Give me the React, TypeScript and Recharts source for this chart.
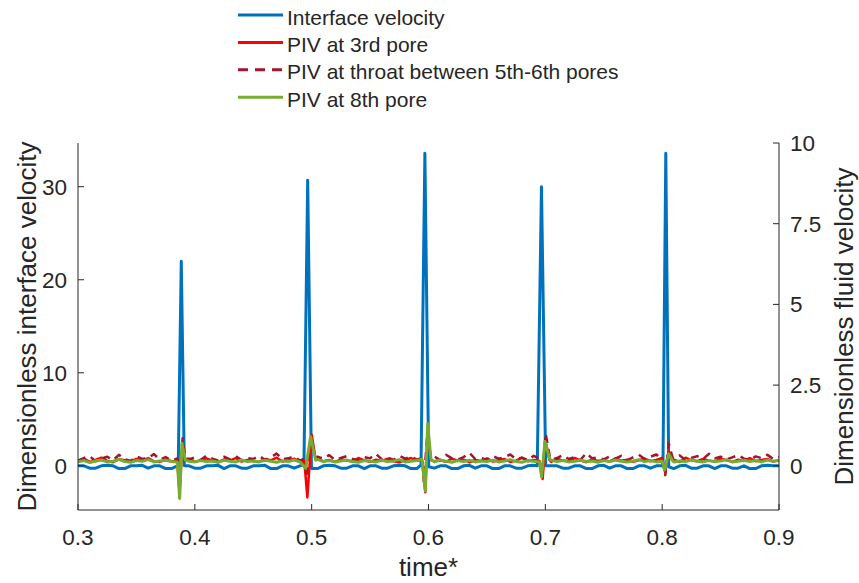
import React from 'react';
import { LineChart, Line, XAxis, YAxis } from 'recharts';

// sampling grid of the PIV / interface records (time*)
const gridTime = Array.from({ length: 121 }, (_, i) => Math.round((0.3 + i * 0.005) * 10000) / 10000);

// interface velocity baseline (left axis), one value per grid time
const ifaceBase = [
  0.0, 0.0, -0.25, -0.25, 0.0, 0.05, 0.0, -0.3, -0.3, 0.0,
  0.0, 0.05, -0.25, 0.0, 0.0, -0.3, -0.3, 0.0, 0.0, 0.0,
  -0.25, -0.25, 0.0, 0.0, 0.05, -0.3, 0.0, 0.0, -0.25, -0.25,
  0.0, 0.0, 0.05, -0.3, -0.3, 0.0, 0.0, -0.25, 0.0, 0.0,
  -0.3, -0.3, 0.0, 0.05, 0.0, -0.25, -0.25, 0.0, 0.0, -0.3,
  0.0, 0.0, -0.25, -0.25, 0.0, 0.05, 0.0, -0.3, -0.3, 0.0,
  0.0, -0.25, 0.0, 0.0, -0.3, -0.3, 0.0, 0.05, -0.25, 0.0,
  0.0, -0.3, -0.3, 0.0, 0.0, -0.25, -0.25, 0.0, 0.05, 0.0,
  -0.3, 0.0, 0.0, -0.25, -0.25, 0.0, 0.0, -0.3, -0.3, 0.0,
  0.05, -0.25, 0.0, 0.0, -0.3, -0.3, 0.0, 0.0, -0.25, 0.0,
  0.0, -0.3, -0.3, 0.0, 0.05, -0.25, -0.25, 0.0, 0.0, -0.3,
  0.0, 0.0, -0.25, -0.25, 0.0, -0.3, -0.3, 0.0, 0.05, 0.0,
  0.0,
];
// interface velocity spikes: [time*, value]
const ifaceSpikes = [
  [[0.3858, 0.0], [0.3884, 22.0], [0.391, 0.0]],
  [[0.4934, 0.1], [0.4966, 30.7], [0.4998, -0.1]],
  [[0.5936, 0.1], [0.5969, 33.6], [0.6002, -0.1]],
  [[0.6931, 0.0], [0.6967, 30.0], [0.7003, 0.0]],
  [[0.8007, 0.1], [0.8031, 33.6], [0.8056, -0.1]],
];

// PIV at 3rd pore (right axis)
const pore3Base = [
  0.14, 0.22, 0.12, 0.18, 0.25, 0.15, 0.11, 0.2, 0.17, 0.13,
  0.21, 0.16, 0.24, 0.14, 0.12, 0.19, 0.15, 0.13, 0.18, 0.22,
  0.12, 0.17, 0.23, 0.15, 0.11, 0.2, 0.16, 0.24, 0.13, 0.18,
  0.15, 0.12, 0.21, 0.17, 0.25, 0.13, 0.16, 0.22, 0.12, 0.15,
  0.19, 0.23, 0.14, 0.18, 0.12, 0.2, 0.16, 0.13, 0.24, 0.17,
  0.12, 0.19, 0.15, 0.22, 0.14, 0.11, 0.18, 0.24, 0.16, 0.13,
  0.2, 0.14, 0.17, 0.12, 0.22, 0.16, 0.19, 0.11, 0.18, 0.15,
  0.23, 0.13, 0.17, 0.21, 0.12, 0.16, 0.25, 0.14, 0.18, 0.15,
  0.19, 0.12, 0.22, 0.16, 0.14, 0.24, 0.17, 0.11, 0.2, 0.15,
  0.18, 0.13, 0.23, 0.16, 0.19, 0.12, 0.17, 0.22, 0.14, 0.18,
  0.24, 0.15, 0.19, 0.12, 0.25, 0.17, 0.14, 0.21, 0.16, 0.13,
  0.22, 0.17, 0.12, 0.19, 0.15, 0.24, 0.14, 0.18, 0.21, 0.13,
  0.17,
];
const pore3Spikes = [
  [[0.3869, -0.8], [0.3893, 0.6], [0.3915, 0.18]],
  [[0.4937, 0.15], [0.4963, -0.98], [0.5, 0.96], [0.5035, 0.18]],
  [[0.5945, 0.16], [0.5973, -0.82], [0.5993, 1.1], [0.602, 0.18]],
  [[0.6977, -0.41], [0.7, 0.8], [0.7035, 0.18]],
  [[0.8025, -0.2], [0.8056, 0.45], [0.809, 0.18]],
];

// PIV at throat between 5th-6th pores (right axis)
const throat56Base = [
  0.16, 0.24, 0.3, 0.14, 0.22, 0.28, 0.17, 0.34, 0.2, 0.15,
  0.29, 0.21, 0.24, 0.36, 0.19, 0.27, 0.16, 0.23, 0.33, 0.2,
  0.26, 0.18, 0.32, 0.22, 0.16, 0.28, 0.2, 0.3, 0.17, 0.24,
  0.21, 0.31, 0.18, 0.26, 0.38, 0.2, 0.23, 0.29, 0.16, 0.24,
  0.19, 0.28, 0.22, 0.33, 0.18, 0.24, 0.3, 0.21, 0.17, 0.27,
  0.23, 0.37, 0.2, 0.26, 0.18, 0.31, 0.22, 0.28, 0.19, 0.25,
  0.21, 0.29, 0.17, 0.34, 0.23, 0.19, 0.27, 0.4, 0.21, 0.24,
  0.18, 0.3, 0.22, 0.26, 0.35, 0.2, 0.25, 0.17, 0.31, 0.22,
  0.28, 0.19, 0.24, 0.33, 0.21, 0.27, 0.18, 0.39, 0.23, 0.26,
  0.2, 0.29, 0.22, 0.31, 0.17, 0.26, 0.34, 0.21, 0.28, 0.35,
  0.19, 0.27, 0.22, 0.32, 0.18, 0.24, 0.3, 0.21, 0.37, 0.23,
  0.28, 0.2, 0.26, 0.33, 0.22, 0.18, 0.29, 0.24, 0.34, 0.21,
  0.27,
];
const throat56Spikes = [
  [[0.387, -0.6], [0.3895, 0.85], [0.392, 0.24]],
  [[0.4955, -0.3], [0.4995, 0.85], [0.5035, 0.24]],
  [[0.596, -0.5], [0.599, 1.0], [0.602, 0.24]],
  [[0.6975, -0.3], [0.7003, 1.0], [0.704, 0.24]],
  [[0.8027, -0.29], [0.8056, 0.7], [0.809, 0.24]],
];

// PIV at 8th pore (right axis)
const pore8Base = [
  0.12, 0.16, 0.1, 0.15, 0.18, 0.12, 0.14, 0.2, 0.13, 0.11,
  0.16, 0.14, 0.19, 0.12, 0.15, 0.17, 0.13, 0.12, 0.2, 0.14,
  0.12, 0.16, 0.13, 0.15, 0.11, 0.17, 0.14, 0.12, 0.18, 0.13,
  0.15, 0.12, 0.17, 0.14, 0.11, 0.16, 0.13, 0.18, 0.12, 0.15,
  0.14, 0.2, 0.13, 0.16, 0.12, 0.15, 0.18, 0.13, 0.11, 0.16,
  0.14, 0.12, 0.17, 0.13, 0.15, 0.19, 0.12, 0.14, 0.16, 0.13,
  0.15, 0.12, 0.18, 0.14, 0.11, 0.16, 0.13, 0.17, 0.12, 0.15,
  0.13, 0.17, 0.12, 0.15, 0.19, 0.13, 0.11, 0.16, 0.14, 0.12,
  0.15, 0.18, 0.13, 0.16, 0.12, 0.14, 0.17, 0.13, 0.15, 0.11,
  0.16, 0.13, 0.18, 0.14, 0.12, 0.15, 0.19, 0.13, 0.16, 0.12,
  0.14, 0.17, 0.12, 0.15, 0.13, 0.18, 0.14, 0.12, 0.16, 0.13,
  0.15, 0.19, 0.12, 0.14, 0.17, 0.13, 0.16, 0.12, 0.18, 0.14,
  0.16,
];
const pore8Spikes = [
  [[0.387, -1.01], [0.389, 0.7], [0.3918, 0.18]],
  [[0.4949, -0.08], [0.4991, 0.9], [0.5034, 0.18]],
  [[0.5944, 0.2], [0.5973, -0.78], [0.5993, 1.3], [0.6021, 0.2]],
  [[0.6968, -0.34], [0.6997, 0.75], [0.704, 0.18]],
  [[0.8022, -0.13], [0.8056, 0.37], [0.809, 0.15]],
];

const xTicks = [0.3, 0.4, 0.5, 0.6, 0.7, 0.8, 0.9];
const leftTicks = [0, 10, 20, 30];
const rightTicks = [0, 2.5, 5, 7.5, 10];

const legendItems = [
  { name: 'Interface velocity', color: '#0072BD', dash: undefined },
  { name: 'PIV at 3rd pore', color: '#FF0000', dash: undefined },
  { name: 'PIV at throat between 5th-6th pores', color: '#A2142F', dash: '10 7' },
  { name: 'PIV at 8th pore', color: '#77AC30', dash: undefined },
];

const FONT = '"Liberation Sans", Arial, Helvetica, sans-serif';
const INK = '#262626';

// grid samples outside the spike windows + the spike samples, sorted by time
function buildSeries(base: number[], spikes: number[][][]) {
  const pts = gridTime
    .map((t, i) => ({ t, v: base[i] }))
    .filter((p) => !spikes.some((s) => p.t >= s[0][0] && p.t <= s[s.length - 1][0]));
  spikes.forEach((s) => s.forEach(([t, v]) => pts.push({ t, v })));
  return pts.sort((a, b) => a.t - b.t);
}

const ifaceData = buildSeries(ifaceBase, ifaceSpikes);
const pore3Data = buildSeries(pore3Base, pore3Spikes);
const throat56Data = buildSeries(throat56Base, throat56Spikes);
const pore8Data = buildSeries(pore8Base, pore8Spikes);

const X_MARGIN = 19;
const Y_MARGIN = 11;

const XTick = (props: any) => {
  const { x, y, payload } = props;
  const axisY = y - X_MARGIN;
  return (
    <g>
      <line x1={x} x2={x} y1={axisY} y2={axisY - 6} stroke={INK} />
      <text x={x} y={y} dy="0.71em" textAnchor="middle" fill={INK} fontSize={22.5} fontFamily={FONT}>
        {Number(payload.value).toFixed(1)}
      </text>
    </g>
  );
};

const LeftTick = (props: any) => {
  const { x, y, payload } = props;
  const axisX = x + Y_MARGIN;
  return (
    <g>
      <line x1={axisX} x2={axisX + 6} y1={y} y2={y} stroke={INK} />
      <text x={x} y={y} dy="0.355em" textAnchor="end" fill={INK} fontSize={22.5} fontFamily={FONT}>
        {payload.value}
      </text>
    </g>
  );
};

const RightTick = (props: any) => {
  const { x, y, payload } = props;
  const axisX = x - Y_MARGIN;
  return (
    <g>
      <line x1={axisX} x2={axisX - 6} y1={y} y2={y} stroke={INK} />
      <text x={x} y={y} dy="0.355em" textAnchor="start" fill={INK} fontSize={22.5} fontFamily={FONT}>
        {payload.value}
      </text>
    </g>
  );
};

function ChartLegend() {
  return (
    <svg width={859} height={115} style={{ position: 'absolute', left: 0, top: 0 }}>
      {legendItems.map((item, i) => {
        const ly = 15 + i * 27.4;
        return (
          <g key={item.name}>
            <line x1={238} x2={283} y1={ly} y2={ly} stroke={item.color} strokeWidth={3} strokeDasharray={item.dash} />
            <text x={287} y={ly + 9.5} fill={INK} fontSize={21} fontFamily={FONT}>
              {item.name}
            </text>
          </g>
        );
      })}
    </svg>
  );
}

export default function App() {
  return (
    <div style={{ position: 'absolute', left: 0, top: 0, width: 859, height: 583, background: '#fff', fontFamily: FONT }}>
      <LineChart width={859} height={583} margin={{ top: 143, right: 0, bottom: 0, left: 0 }}>
        <XAxis
          dataKey="t"
          type="number"
          domain={[0.3, 0.9]}
          ticks={xTicks}
          interval={0}
          height={73}
          tickSize={0}
          tickMargin={X_MARGIN}
          tick={<XTick />}
          axisLine={{ stroke: INK }}
          allowDataOverflow
          label={{ value: 'time*', position: 'insideBottom', offset: 7, fill: INK, fontSize: 26, fontFamily: FONT }}
        />
        <YAxis
          yAxisId="left"
          orientation="left"
          type="number"
          domain={[-4.75, 34.7]}
          ticks={leftTicks}
          interval={0}
          width={78}
          tickSize={0}
          tickMargin={Y_MARGIN}
          tick={<LeftTick />}
          axisLine={{ stroke: INK }}
          allowDataOverflow
          label={{
            value: 'Dimensionless interface velocity',
            angle: -90,
            position: 'insideLeft',
            offset: 27,
            fill: INK,
            fontSize: 26,
            fontFamily: FONT,
            style: { textAnchor: 'middle' },
          }}
        />
        <YAxis
          yAxisId="right"
          orientation="right"
          type="number"
          domain={[-1.37, 10]}
          ticks={rightTicks}
          interval={0}
          width={80}
          tickSize={0}
          tickMargin={Y_MARGIN}
          tick={<RightTick />}
          axisLine={{ stroke: INK }}
          allowDataOverflow
          label={{
            value: 'Dimensionless fluid velocity',
            angle: -90,
            position: 'insideRight',
            offset: 15,
            fill: INK,
            fontSize: 26,
            fontFamily: FONT,
            style: { textAnchor: 'middle' },
          }}
        />
        <Line
          yAxisId="left"
          data={ifaceData}
          dataKey="v"
          stroke="#0072BD"
          strokeWidth={3}
          strokeLinejoin="round"
          dot={false}
          activeDot={false}
          isAnimationActive={false}
        />
        <Line
          yAxisId="right"
          data={pore3Data}
          dataKey="v"
          stroke="#FF0000"
          strokeWidth={2.5}
          strokeLinejoin="round"
          dot={false}
          activeDot={false}
          isAnimationActive={false}
        />
        <Line
          yAxisId="right"
          data={throat56Data}
          dataKey="v"
          stroke="#A2142F"
          strokeWidth={2.5}
          strokeDasharray="8 6"
          strokeLinejoin="round"
          dot={false}
          activeDot={false}
          isAnimationActive={false}
        />
        <Line
          yAxisId="right"
          data={pore8Data}
          dataKey="v"
          stroke="#77AC30"
          strokeWidth={3}
          strokeLinejoin="round"
          dot={false}
          activeDot={false}
          isAnimationActive={false}
        />
      </LineChart>
      <ChartLegend />
    </div>
  );
}
